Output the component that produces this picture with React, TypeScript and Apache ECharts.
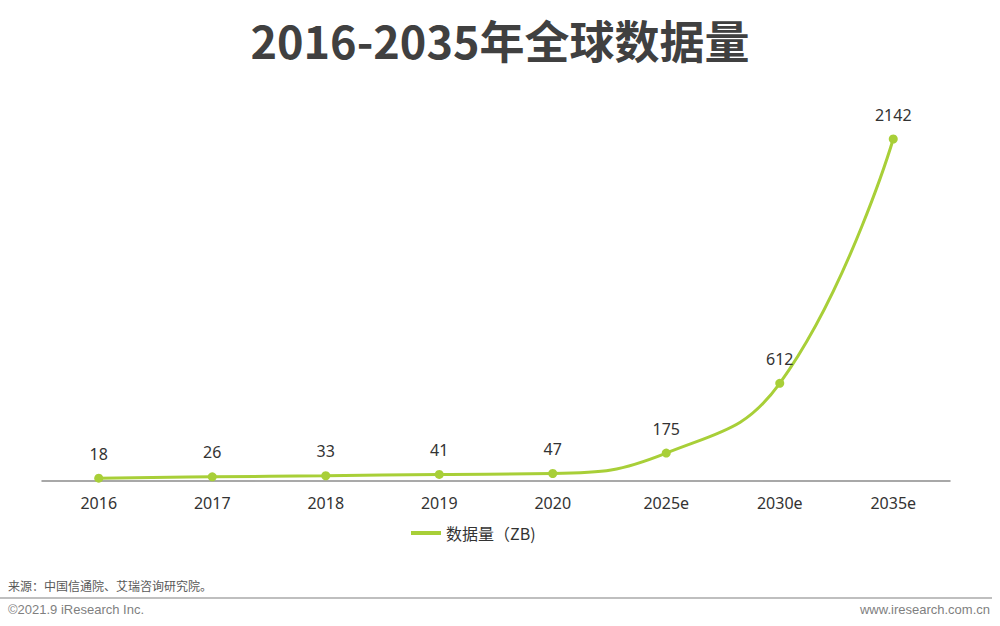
import React, { useEffect, useRef } from "react";
import * as echarts from "echarts";

const categories = ["2016", "2017", "2018", "2019", "2020", "2025e", "2030e", "2035e"];
const values = [18, 26, 33, 41, 47, 175, 612, 2142];
const seriesName = "数据量（ZB)";
const title = "2016-2035年全球数据量";
const sourceText = "来源：中国信通院、艾瑞咨询研究院。";
const copyright = "©2021.9 iResearch Inc.";
const website = "www.iresearch.com.cn";

export default function App() {
  const ref = useRef<HTMLDivElement>(null);
  useEffect(() => {
    if (!ref.current) return;
    const chart = echarts.init(ref.current, undefined, { renderer: "svg" });
    const green = "#a8cf38";
    chart.setOption({
      animation: false,
      backgroundColor: "#ffffff",
      title: {
        text: title,
        left: "center",
        top: 12,
        textStyle: {
          fontSize: 45,
          fontWeight: "bold",
          color: "#404040",
          fontFamily: "Noto Sans CJK SC",
        },
      },
      grid: { left: 42, right: 50, top: 139, bottom: 145, containLabel: false },
      legend: {
        top: 520,
        left: 406,
        itemWidth: 30,
        itemHeight: 4,
        icon: "rect",
        itemGap: 10,
        textStyle: { fontSize: 16, color: "#333", fontFamily: "Noto Sans CJK SC" },
        data: [{ name: seriesName, icon: "rect" }],
      },
      xAxis: {
        type: "category",
        data: categories,
        boundaryGap: true,
        axisLine: { lineStyle: { color: "#8c8c8c", width: 1.5 } },
        axisTick: { show: false },
        axisLabel: { fontSize: 16, color: "#333", margin: 14, fontFamily: "Noto Sans" },
      },
      yAxis: {
        type: "value",
        min: 0,
        max: 2142,
        show: false,
        splitLine: { show: false },
      },
      series: [
        {
          name: seriesName,
          type: "line",
          data: values,
          smooth: 0.45,
          symbol: "circle",
          symbolSize: 9,
          itemStyle: { color: green },
          lineStyle: { color: green, width: 3 },
          label: {
            show: true,
            position: "top",
            distance: 12,
            fontSize: 16,
            color: "#333",
            fontFamily: "Noto Sans",
          },
        },
      ],
      graphic: [
        {
          type: "text",
          left: 8,
          top: 579,
          style: { text: sourceText, fontSize: 12, fill: "#595959", fontFamily: "Noto Sans CJK SC" },
        },
        {
          type: "rect",
          shape: { x: 0, y: 597, width: 992, height: 2 },
          style: { fill: "#bfbfbf" },
        },
        {
          type: "text",
          left: 8,
          top: 603,
          style: { text: copyright, fontSize: 13, fill: "#7f7f7f", fontFamily: "Liberation Sans" },
        },
        {
          type: "text",
          right: 10,
          top: 603,
          style: { text: website, fontSize: 13, fill: "#7f7f7f", fontFamily: "Liberation Sans" },
        },
      ],
    });
    return () => chart.dispose();
  }, []);
  return (
    <div
      ref={ref}
      style={{ position: "fixed", left: 0, top: 0, width: 1000, height: 626 }}
    />
  );
}
